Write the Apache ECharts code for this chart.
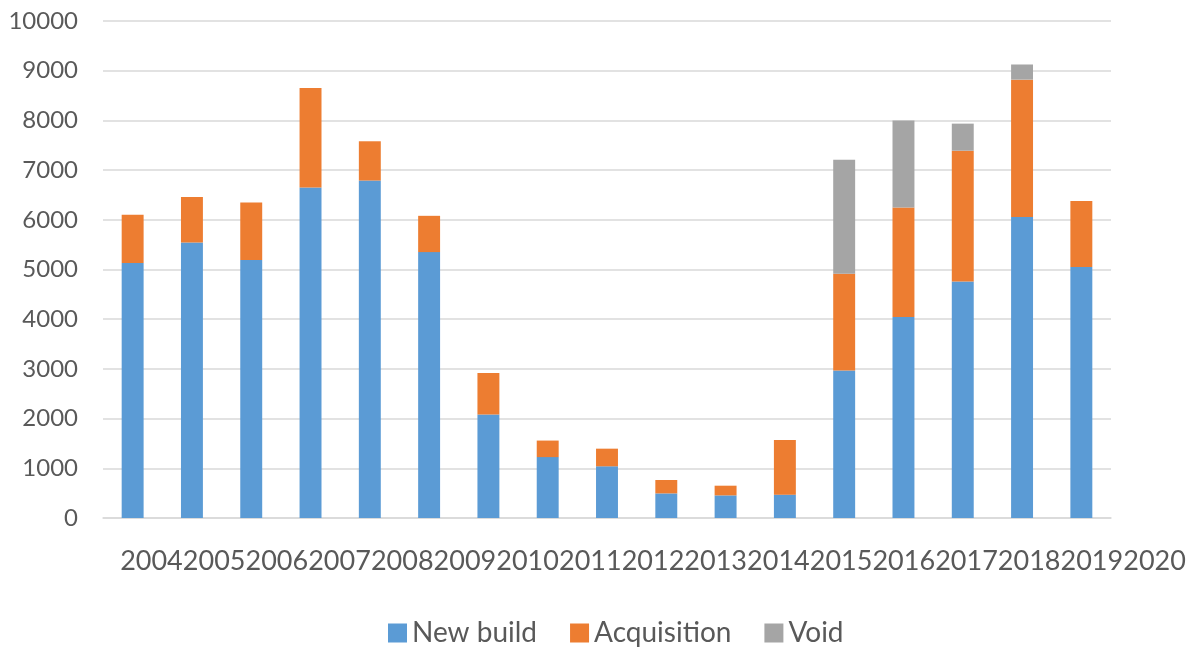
<!DOCTYPE html>
<html>
<head>
<meta charset="utf-8">
<script src="https://cdn.jsdelivr.net/npm/echarts@6/dist/echarts.min.js"></script>
<style>
  html, body { margin: 0; padding: 0; background: #fff; }
  #chart { width: 1191px; height: 649px; }
</style>
</head>
<body>
<div id="chart"></div>
<script>
const years = ['2004', '2005', '2006', '2007', '2008', '2009', '2010', '2011', '2012',
  '2013', '2014', '2015', '2016', '2017', '2018', '2019', '2020'];
const newBuild = [5130, 5545, 5190, 6650, 6790, 5350, 2080, 1225, 1040, 495, 455, 470, 2970, 4045, 4760, 6055, 5050];
const acquisition = [970, 915, 1160, 2000, 790, 730, 840, 333, 355, 270, 195, 1100, 1945, 2200, 2630, 2765, 1330];
const voidUnits = [0, 0, 0, 0, 0, 0, 0, 0, 0, 0, 0, 0, 2295, 1755, 545, 305, 0];

const textColor = '#595959';
const font = 'Lato, "Open Sans", sans-serif';

const chart = echarts.init(document.getElementById('chart'));

function bar(name, data, color) {
  return {
    name,
    type: 'bar',
    stack: 'total',
    barWidth: '37%',
    itemStyle: { color },
    data,
  };
}

// the year labels are wider than a category, so they run on past the bars to the right
const labelRich = {};
years.forEach((y, i) => {
  const shift = 18.8 + 3.4 * i;
  labelRich['l' + i] = { fontSize: 27, color: textColor, fontFamily: font, padding: [0, 0, 0, shift * 2] };
});

chart.setOption({
  animation: false,
  textStyle: { fontFamily: font },
  grid: { left: 103, right: 80, top: 21, bottom: 131 },
  legend: {
    top: 614,
    left: 383,
    icon: 'rect',
    itemWidth: 19,
    itemHeight: 19,
    itemGap: 33,
    textStyle: { color: textColor, fontSize: 28, fontFamily: font },
    data: ['New build', 'Acquisition', 'Void'],
  },
  xAxis: {
    type: 'category',
    data: years,
    axisTick: { show: false },
    axisLine: { lineStyle: { color: '#D9D9D9', width: 1.5 } },
    axisLabel: {
      interval: 0,
      margin: 30,
      formatter: (v, i) => '{l' + i + '|' + v + '}',
      rich: labelRich,
    },
  },
  yAxis: {
    type: 'value',
    min: 0,
    max: 10000,
    interval: 1000,
    axisLine: { show: false },
    axisTick: { show: false },
    splitLine: { lineStyle: { color: '#D9D9D9', width: 1.5 } },
    axisLabel: { color: textColor, fontSize: 24, margin: 25, fontFamily: font, formatter: (v) => String(v) },
  },
  series: [
    bar('New build', newBuild, '#5B9BD5'),
    bar('Acquisition', acquisition, '#ED7D31'),
    bar('Void', voidUnits, '#A5A5A5'),
  ],
});
</script>
</body>
</html>
